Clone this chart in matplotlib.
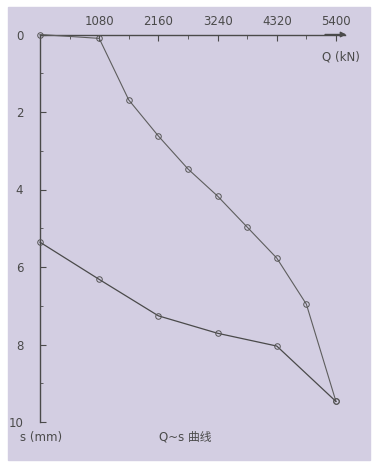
import matplotlib.pyplot as plt
from matplotlib.patches import Rectangle
from matplotlib.ticker import MultipleLocator

plt.rcParams['font.family'] = ['DejaVu Sans', 'Noto Sans CJK SC']

# loading branch
q_load = [0, 1080, 1620, 2160, 2700, 3240, 3780, 4320, 4860, 5400]
s_load = [0, 0.10, 1.69, 2.62, 3.47, 4.17, 4.97, 5.77, 6.96, 9.47]
# unloading branch
q_unload = [5400, 4320, 3240, 2160, 1080, 0]
s_unload = [9.47, 8.04, 7.71, 7.26, 6.32, 5.36]

q_ticks = [1080, 2160, 3240, 4320, 5400]
s_ticks = [0, 2, 4, 6, 8, 10]

bg = '#d3cee2'
ink = '#4a4a4a'
W, H = 378, 467

fig = plt.figure(figsize=(W / 100, H / 100), dpi=100)
fig.patches.append(Rectangle((8 / W, 1 - 460 / H), 362 / W, 453 / H,
                             transform=fig.transFigure, color=bg, zorder=-10))

ax = fig.add_axes([40 / W, 1 - 422 / H, 305 / W, 387.5 / H])
ax.set_zorder(5)
ax.patch.set_visible(False)
ax.set_xlim(0, 5565)
ax.set_ylim(10, 0)

for side in ['right', 'bottom']:
    ax.spines[side].set_visible(False)
for side in ['top', 'left']:
    ax.spines[side].set_color(ink)
    ax.spines[side].set_linewidth(1.0)

ax.xaxis.tick_top()
ax.set_xticks(q_ticks)
ax.set_xticklabels([str(q) for q in q_ticks])
ax.xaxis.set_minor_locator(MultipleLocator(540))
ax.set_yticks(s_ticks)
ax.yaxis.set_minor_locator(MultipleLocator(1))
ax.tick_params(axis='x', which='both', direction='in', colors=ink, length=4,
               pad=5, labelsize=8.5)
ax.tick_params(axis='x', which='minor', length=3)
ax.tick_params(axis='y', which='both', direction='in', colors=ink, length=4,
               pad=12, labelsize=8.5)
ax.tick_params(axis='y', which='minor', length=2)

ax.plot(q_load, s_load, color='#5e5e5e', lw=0.8, marker='o', ms=4,
        mfc='none', mec='#555555', mew=0.7, clip_on=False, zorder=3)
ax.plot(q_unload, s_unload, color='#4a4a4a', lw=0.9, marker='o', ms=4,
        mfc='none', mec='#555555', mew=0.7, clip_on=False, zorder=3)

# arrow at end of Q axis
ax.annotate('', xy=(5640, 0), xytext=(5150, 0), xycoords='data',
            arrowprops=dict(arrowstyle='-|>', color=ink, lw=1.0,
                            mutation_scale=8), annotation_clip=False)

fig.text(341 / W, 1 - 57 / H, 'Q (kN)', ha='center', va='center',
         fontsize=8.5, color=ink)
fig.text(41 / W, 1 - 437 / H, 's (mm)', ha='center', va='center',
         fontsize=8.5, color=ink)
fig.text(185 / W, 1 - 437 / H, 'Q~s 曲线', ha='center', va='center',
         fontsize=8.5, color=ink)

fig.savefig('out.png', dpi=100, facecolor='white')
